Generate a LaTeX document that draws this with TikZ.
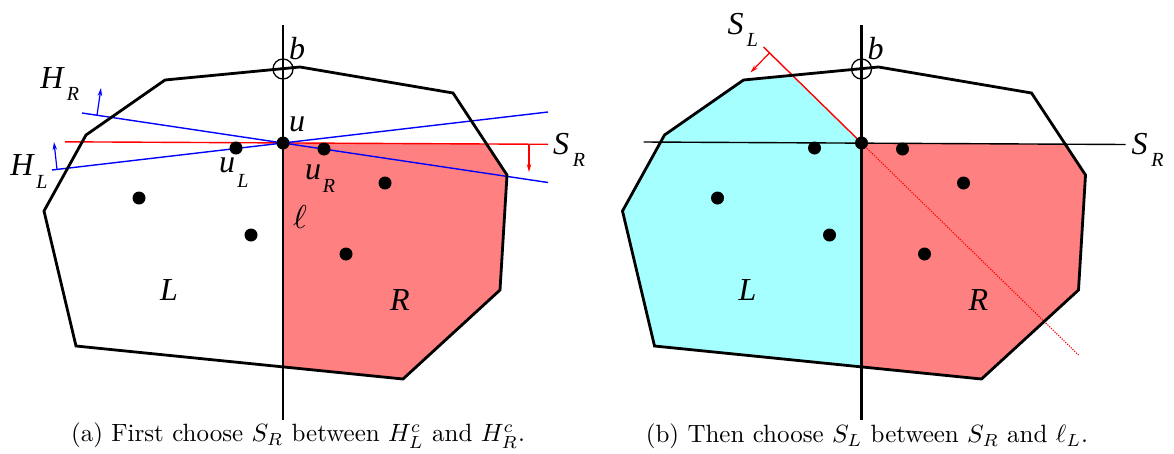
\documentclass[tikz,border=0pt]{standalone}
\usepackage{graphicx}
\usepackage{fontspec}
\newfontfamily\labfont{Liberation Serif}
\usetikzlibrary{arrows.meta}
\definecolor{rfill}{RGB}{255,128,128}
\definecolor{cfill}{RGB}{166,255,255}
\begin{document}
\begin{tikzpicture}[x=1pt,y=-1pt,
  hull/.style={line width=2.8pt,line join=miter},
  vline/.style={line width=2.4pt},
  pt/.style={circle,fill=black,inner sep=0pt,minimum size=13pt},
  thinl/.style={line width=1.4pt},
  tipl/.style={-{Stealth[length=8pt,width=4.5pt]},line width=1.2pt},
  bcirc/.style={circle,draw,line width=1.3pt,minimum size=20pt,inner sep=0pt},
  lab/.style={font=\labfont\itshape\fontsize{32}{32}\selectfont,inner sep=0pt},
  sub/.style={font=\labfont\itshape\fontsize{20}{20}\selectfont,inner sep=0pt},
  captxt/.style={font=\fontsize{10}{12}\selectfont,inner sep=0pt},
]
\useasboundingbox (0,0) rectangle (1174,453);

% ================= Panel (a) =================
\begin{scope}
\coordinate (p1) at (44,211);
\coordinate (p2) at (86,135);
\coordinate (p3) at (165,80);
\coordinate (p4) at (300,67);
\coordinate (p5) at (453,93);
\coordinate (p6) at (507,175);
\coordinate (p7) at (500,290);
\coordinate (p8) at (403,379);
\coordinate (p9) at (76,346);
\begin{scope}
  \clip (p1)--(p2)--(p3)--(p4)--(p5)--(p6)--(p7)--(p8)--(p9)--cycle;
  \fill[rfill] (283,143)--(560,144.4)--(560,430)--(283,430)--cycle;
\end{scope}
\coordinate (u) at (283,143);
\coordinate (srs) at (65,141.8);
\coordinate (sre) at (548,144.3);
\coordinate (hrs) at (82,113);
\coordinate (hre) at (548,182.5);
\coordinate (hls) at (52,170);
\coordinate (hle) at (548,112);
\draw[red,thinl] (srs) -- (sre);
\draw[blue,thinl] (hrs) -- (u) -- (hre);
\draw[blue,thinl] (hls) -- (u) -- (hle);
\coordinate (hrt) at (97,115.2);
\coordinate (hrh) at (101,88);
\draw[blue,tipl] (hrt) -- (hrh);
\coordinate (hlt) at (57,169.4);
\coordinate (hlh) at (54,142);
\draw[blue,tipl] (hlt) -- (hlh);
\coordinate (srt) at (529,144.1);
\coordinate (srh) at (529,172);
\draw[red,tipl] (srt) -- (srh);
\draw[hull] (p1)--(p2)--(p3)--(p4)--(p5)--(p6)--(p7)--(p8)--(p9)--cycle;
\coordinate (vt) at (283,25);
\coordinate (vb) at (283,420);
\draw[vline] (vt) -- (vb);
\node[bcirc] (bc) at (283,69) {};
\node[pt] (du) at (u) {};
\node[pt] (d1) at (236,148) {};
\node[pt] (d2) at (324,149) {};
\node[pt] (d3) at (385,183) {};
\node[pt] (d4) at (139,198) {};
\node[pt] (d5) at (251,235) {};
\node[pt] (d6) at (346,254) {};
\node[lab] (lb) at (297,49) {b};
\node[lab] (lu) at (297,124) {u};
\node[lab] (lhr) at (52,78) {H};
\node[sub] (lhrs) at (73,94) {R};
\node[lab] (lhl) at (22,165) {H};
\node[sub] (lhls) at (42,182) {L};
\node[lab] (lul) at (227,165) {u};
\node[sub] (luls) at (243,181) {L};
\node[lab] (lur) at (313,172) {u};
\node[sub] (lurs) at (329,186) {R};
\node[inner sep=0pt,font=\fontsize{10}{12}\selectfont] (lell) at (300,217) {\scalebox{3.3}{$\ell$}};
\node[lab] (lsr) at (561,144) {S};
\node[sub] (lsrs) at (579,160) {R};
\node[lab] (lL) at (169,290) {L};
\node[lab] (lR) at (400,300) {R};
\node[captxt] (capa) at (298,436) {\scalebox{2.5}{(a) First choose $S_R$ between $H_L^c$ and $H_R^c$.}};
\end{scope}

% ================= Panel (b) =================
\begin{scope}[xshift=578.5pt]
\coordinate (q1) at (44,211);
\coordinate (q2) at (86,135);
\coordinate (q3) at (165,80);
\coordinate (q4) at (300,67);
\coordinate (q5) at (453,93);
\coordinate (q6) at (507,175);
\coordinate (q7) at (500,290);
\coordinate (q8) at (403,379);
\coordinate (q9) at (76,346);
\begin{scope}
  \clip (q1)--(q2)--(q3)--(q4)--(q5)--(q6)--(q7)--(q8)--(q9)--cycle;
  \fill[cfill] (283,143)--(127,-10)--(20,-10)--(20,430)--(283,430)--cycle;
  \fill[rfill] (283,143)--(560,145)--(560,430)--(283,430)--cycle;
\end{scope}
\coordinate (v) at (283,143);
\coordinate (sbs) at (65,142);
\coordinate (sbe) at (547,144.5);
\draw[thinl] (sbs) -- (sbe);
\coordinate (sls) at (185,47);
\coordinate (sle) at (500,355);
\draw[red,thinl] (sls) -- (v);
\draw[red,line width=1.1pt,dash pattern=on 1.2pt off 1.3pt] (v) -- (sle);
\coordinate (slt) at (191,52.9);
\coordinate (slh) at (172,72.5);
\draw[red,tipl] (slt) -- (slh);
\draw[hull] (q1)--(q2)--(q3)--(q4)--(q5)--(q6)--(q7)--(q8)--(q9)--cycle;
\coordinate (wt) at (283,25);
\coordinate (wb) at (283,420);
\draw[vline] (wt) -- (wb);
\node[bcirc] (bc2) at (283,69) {};
\node[pt] (ev) at (v) {};
\node[pt] (e1) at (236,148) {};
\node[pt] (e2) at (324,149) {};
\node[pt] (e3) at (385,183) {};
\node[pt] (e4) at (139,198) {};
\node[pt] (e5) at (251,235) {};
\node[pt] (e6) at (346,254) {};
\node[lab] (mb) at (297,49) {b};
\node[lab] (msl) at (157,24) {S};
\node[sub] (msls) at (174,40) {L};
\node[lab] (msr) at (561,144) {S};
\node[sub] (msrs) at (579,160) {R};
\node[lab] (mL) at (169,290) {L};
\node[lab] (mR) at (400,300) {R};
\node[captxt] (capb) at (288.5,436) {\scalebox{2.5}{(b) Then choose $S_L$ between $S_R$ and $\ell_L$.}};
\end{scope}
\end{tikzpicture}
\end{document}
